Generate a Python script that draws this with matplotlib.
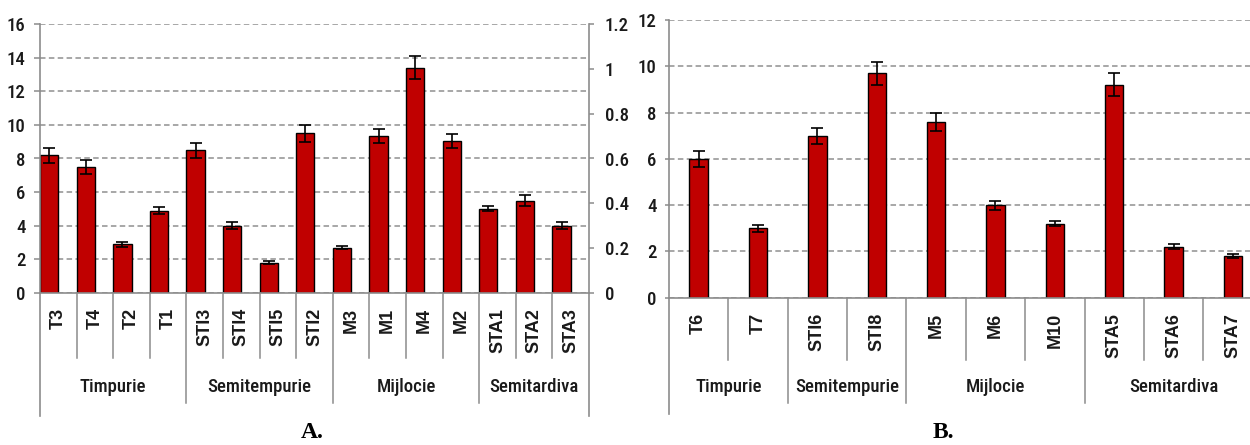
import matplotlib
matplotlib.use("Agg")
import matplotlib.pyplot as plt
import matplotlib.transforms as mtransforms

# panel A: four groups of lines, left scale 0-16, empty right scale 0-1.2
groups_a = ["Timpurie", "Semitempurie", "Mijlocie", "Semitardiva"]
labels_a = ["T3", "T4", "T2", "T1",
            "STI3", "STI4", "STI5", "STI2",
            "M3", "M1", "M4", "M2",
            "STA1", "STA2", "STA3"]
sizes_a = [4, 4, 4, 3]
values_a = [8.2, 7.5, 2.9, 4.9,
            8.5, 4.0, 1.8, 9.5,
            2.7, 9.35, 13.4, 9.05,
            5.0, 5.5, 4.0]
errors_a = [0.45, 0.4, 0.15, 0.2,
            0.45, 0.2, 0.08, 0.5,
            0.08, 0.4, 0.7, 0.4,
            0.15, 0.3, 0.2]

# panel B
groups_b = ["Timpurie", "Semitempurie", "Mijlocie", "Semitardiva"]
labels_b = ["T6", "T7", "STI6", "STI8", "M5", "M6", "M10", "STA5", "STA6", "STA7"]
sizes_b = [2, 2, 3, 3]
values_b = [6.0, 3.0, 7.0, 9.7, 7.6, 4.0, 3.2, 9.2, 2.2, 1.8]
errors_b = [0.35, 0.15, 0.35, 0.5, 0.4, 0.2, 0.12, 0.5, 0.1, 0.1]

W, H = 1250, 445
DPI = 100
BAR = "#c00000"
AXC = "#8c8c8c"
TXT = "#1a1a1a"
NARROW = "Roboto Condensed"
NUM_SIZE = 13.5

fig = plt.figure(figsize=(W / DPI, H / DPI), dpi=DPI)


def make_axes(left, right, zero, top):
    # pixel box -> figure fraction
    return fig.add_axes([left / W, (H - zero) / H, (right - left) / W, (zero - top) / H])


def narrow_ticks(ax):
    for t in ax.get_yticklabels():
        t.set_family(NARROW)
        t.set_fontweight("medium")


def style_axis(ax, ymax, ystep, tick_len, pad):
    ax.set_ylim(0, ymax)
    ax.set_yticks(range(0, ymax + 1, ystep))
    ax.yaxis.grid(True, color="#8f8f8f", linestyle=(0, (3.6, 2.2)), linewidth=1.1)
    ax.set_axisbelow(True)
    for s in ("top", "right"):
        ax.spines[s].set_visible(False)
    for s in ("left", "bottom"):
        ax.spines[s].set_color(AXC)
        ax.spines[s].set_linewidth(1.2)
    ax.tick_params(axis="y", length=tick_len, width=1.1, color=AXC, pad=pad,
                   labelcolor=TXT, labelsize=NUM_SIZE)
    narrow_ticks(ax)
    ax.tick_params(axis="x", length=0, labelbottom=False)


def below(ax, px):
    # axes fraction that lies px pixels under the x axis
    return -px / (ax.get_position().height * H)


def categories(ax, labels, sizes, groups, label_gap, div_len, grp_len, axis_len, grp_y):
    tr = mtransforms.blended_transform_factory(ax.transData, ax.transAxes)
    n = len(labels)
    for i, lab in enumerate(labels):
        ax.text(i + 0.5, below(ax, label_gap), lab, transform=tr, rotation=90,
                ha="center", va="top", fontsize=13, fontweight="bold",
                family="Liberation Sans", color=TXT)
    edges = [0]
    for s in sizes:
        edges.append(edges[-1] + s)
    for i in range(1, n):
        ln = grp_len if i in edges else div_len
        ax.plot([i, i], [0, below(ax, ln)], transform=tr, color=AXC, lw=1.1,
                clip_on=False)
    for x in (0, n):
        ax.plot([x, x], [0, below(ax, axis_len)], transform=tr, color=AXC, lw=1.2,
                clip_on=False)
    for g, a, b in zip(groups, edges[:-1], edges[1:]):
        ax.text((a + b) / 2, below(ax, grp_y), g, transform=tr, ha="center",
                va="center", fontsize=NUM_SIZE, family=NARROW, fontweight="medium",
                color=TXT)


# ---- A ----
axA = make_axes(40, 589, 293, 24)
nA = len(labels_a)
axA.set_xlim(0, nA)
axA.bar([i for i in range(nA)], values_a, width=0.5, align="edge", color=BAR,
        edgecolor="black", linewidth=1.0, zorder=2)
axA.errorbar([i + 0.25 for i in range(nA)], values_a, yerr=errors_a, fmt="none",
             ecolor="black", elinewidth=1.2, capsize=4, capthick=1.2, zorder=3)
style_axis(axA, 16, 2, 4.3, 6)
categories(axA, labels_a, sizes_a, groups_a, 15, 65, 110, 123, 94)

axA2 = axA.twinx()
axA2.set_ylim(0, 1.2)
axA2.set_yticks([0, 0.2, 0.4, 0.6, 0.8, 1.0, 1.2])
axA2.set_yticklabels(["0", "0.2", "0.4", "0.6", "0.8", "1", "1.2"])
for s in ("top", "left", "bottom"):
    axA2.spines[s].set_visible(False)
axA2.spines["right"].set_color(AXC)
axA2.spines["right"].set_linewidth(1.2)
axA2.tick_params(axis="y", length=3.5, width=1.1, color=AXC, pad=8,
                 labelcolor=TXT, labelsize=NUM_SIZE)
narrow_ticks(axA2)

# ---- B ----
nB = len(labels_b)
axB = make_axes(669, 669 + 59.36 * nB, 297.7, 20)
axB.set_xlim(0, nB)
axB.bar([i + 0.5 for i in range(nB)], values_b, width=0.31, color=BAR,
        edgecolor="black", linewidth=1.0, zorder=2)
axB.errorbar([i + 0.5 for i in range(nB)], values_b, yerr=errors_b, fmt="none",
             ecolor="black", elinewidth=1.2, capsize=4, capthick=1.2, zorder=3)
style_axis(axB, 12, 2, 3, 6)
categories(axB, labels_b, sizes_b, groups_b, 15, 62, 105, 116, 89)

fig.text(312 / W, 1 - 432 / H, "A.", ha="center", va="center", fontsize=17,
         fontweight="bold", family="Liberation Serif")
fig.text(943 / W, 1 - 432 / H, "B.", ha="center", va="center", fontsize=17,
         fontweight="bold", family="Liberation Serif")

fig.savefig("out.png", dpi=DPI)
